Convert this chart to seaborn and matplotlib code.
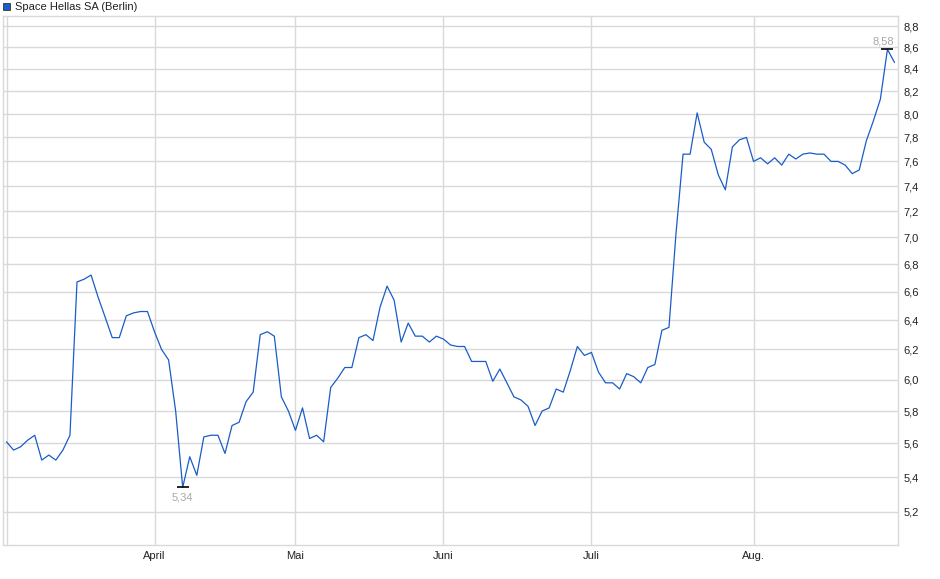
import numpy as np
import pandas as pd
import matplotlib
matplotlib.use('Agg')
import matplotlib.pyplot as plt
import matplotlib.ticker as mticker
from matplotlib.patches import Rectangle
import seaborn as sns

# closing prices, one per trading day (3 Mar 2025 - 29 Aug 2025)
prices = [
    5.61, 5.56, 5.58, 5.62, 5.65, 5.50, 5.53, 5.50, 5.56, 5.65,
    6.67, 6.69, 6.72, 6.56, 6.42, 6.28, 6.28, 6.43, 6.45, 6.46,
    6.46, 6.32, 6.20, 6.13, 5.80, 5.34, 5.52, 5.41, 5.64, 5.65,
    5.65, 5.54, 5.71, 5.73, 5.86, 5.92, 6.30, 6.32, 6.29, 5.89,
    5.80, 5.68, 5.82, 5.63, 5.65, 5.61, 5.95, 6.01, 6.08, 6.08,
    6.28, 6.30, 6.26, 6.49, 6.64, 6.54, 6.25, 6.38, 6.29, 6.29,
    6.25, 6.29, 6.27, 6.23, 6.22, 6.22, 6.12, 6.12, 6.12, 5.99,
    6.07, 5.98, 5.89, 5.87, 5.83, 5.71, 5.80, 5.82, 5.94, 5.92,
    6.06, 6.22, 6.16, 6.18, 6.05, 5.98, 5.98, 5.94, 6.04, 6.02,
    5.98, 6.08, 6.10, 6.33, 6.35, 7.03, 7.66, 7.66, 8.01, 7.76,
    7.70, 7.49, 7.37, 7.72, 7.78, 7.80, 7.60, 7.63, 7.58, 7.63,
    7.57, 7.66, 7.62, 7.66, 7.67, 7.66, 7.66, 7.60, 7.60, 7.57,
    7.50, 7.53, 7.77, 7.94, 8.13, 8.58, 8.46,
]
holidays = ['2025-04-18', '2025-04-21', '2025-05-01']
dates = pd.bdate_range('2025-03-03', '2025-08-29')
dates = dates[~dates.isin(pd.to_datetime(holidays))]

month_names = ['', 'April', 'Mai', 'Juni', 'Juli', 'Aug.']
y_ticks = [5.2, 5.4, 5.6, 5.8, 6.0, 6.2, 6.4, 6.6, 6.8, 7.0, 7.2, 7.4, 7.6, 7.8, 8.0, 8.2, 8.4, 8.6, 8.8]

df = pd.DataFrame({'date': dates, 'price': prices})
df['pos'] = np.arange(len(df))
month_pos = df.groupby(df['date'].dt.month)['pos'].min().tolist()

sns.set_style('white')
plt.rcParams['font.family'] = ['Liberation Sans', 'DejaVu Sans']

fig = plt.figure(figsize=(9.4, 5.79), dpi=100)
ax = fig.add_axes([3 / 940, 1 - 545 / 579, 895 / 940, 529 / 579])

grid_c = '#d9d9d9'
sns.lineplot(data=df, x='pos', y='price', ax=ax, color='#1a5cc8', linewidth=0.9)

ax.set_yscale('log')
ax.set_ylim(5.017, 8.896)
ax.set_xlim(-0.5, 126.5)
ax.yaxis.set_major_locator(mticker.FixedLocator(y_ticks))
ax.yaxis.set_minor_locator(mticker.NullLocator())
ax.yaxis.set_major_formatter(mticker.FuncFormatter(lambda v, p: f'{v:.1f}'.replace('.', ',')))
ax.yaxis.tick_right()
ax.set_xticks(month_pos)
ax.set_xticklabels(month_names)
ax.tick_params(axis='both', length=0, labelsize=8, colors='#222222')
ax.tick_params(axis='y', pad=4)
ax.tick_params(axis='x', pad=4)
ax.grid(True, color=grid_c, linewidth=1)
for s in ax.spines.values():
    s.set_color(grid_c)
    s.set_linewidth(1)
ax.set_xlabel('')
ax.set_ylabel('')

# min / max markers
i_min = int(np.argmin(prices))
i_max = int(np.argmax(prices))
ax.plot([i_min], [prices[i_min]], marker='_', markersize=9, color='black', mew=1.2)
ax.plot([i_max], [prices[i_max]], marker='_', markersize=9, color='black', mew=1.2)
ax.annotate(f'{prices[i_min]:.2f}'.replace('.', ','), (i_min, prices[i_min]),
            xytext=(0, -4), textcoords='offset points', ha='center', va='top',
            fontsize=8, color='#a8a8a8')
ax.annotate(f'{prices[i_max]:.2f}'.replace('.', ','), (i_max, prices[i_max]),
            xytext=(-3, 2), textcoords='offset points', ha='center', va='bottom',
            fontsize=8, color='#a8a8a8')

# legend-like header
fig.patches.append(Rectangle((3 / 940, 1 - 10 / 579), 7 / 940, 7 / 579,
                             transform=fig.transFigure, facecolor='#1a5cc8',
                             edgecolor='#333333', linewidth=0.6))
fig.text(15 / 940, 1 - 6.5 / 579, 'Space Hellas SA (Berlin)', fontsize=8,
         va='center', ha='left', color='#222222')

fig.savefig('out.png', dpi=100)
